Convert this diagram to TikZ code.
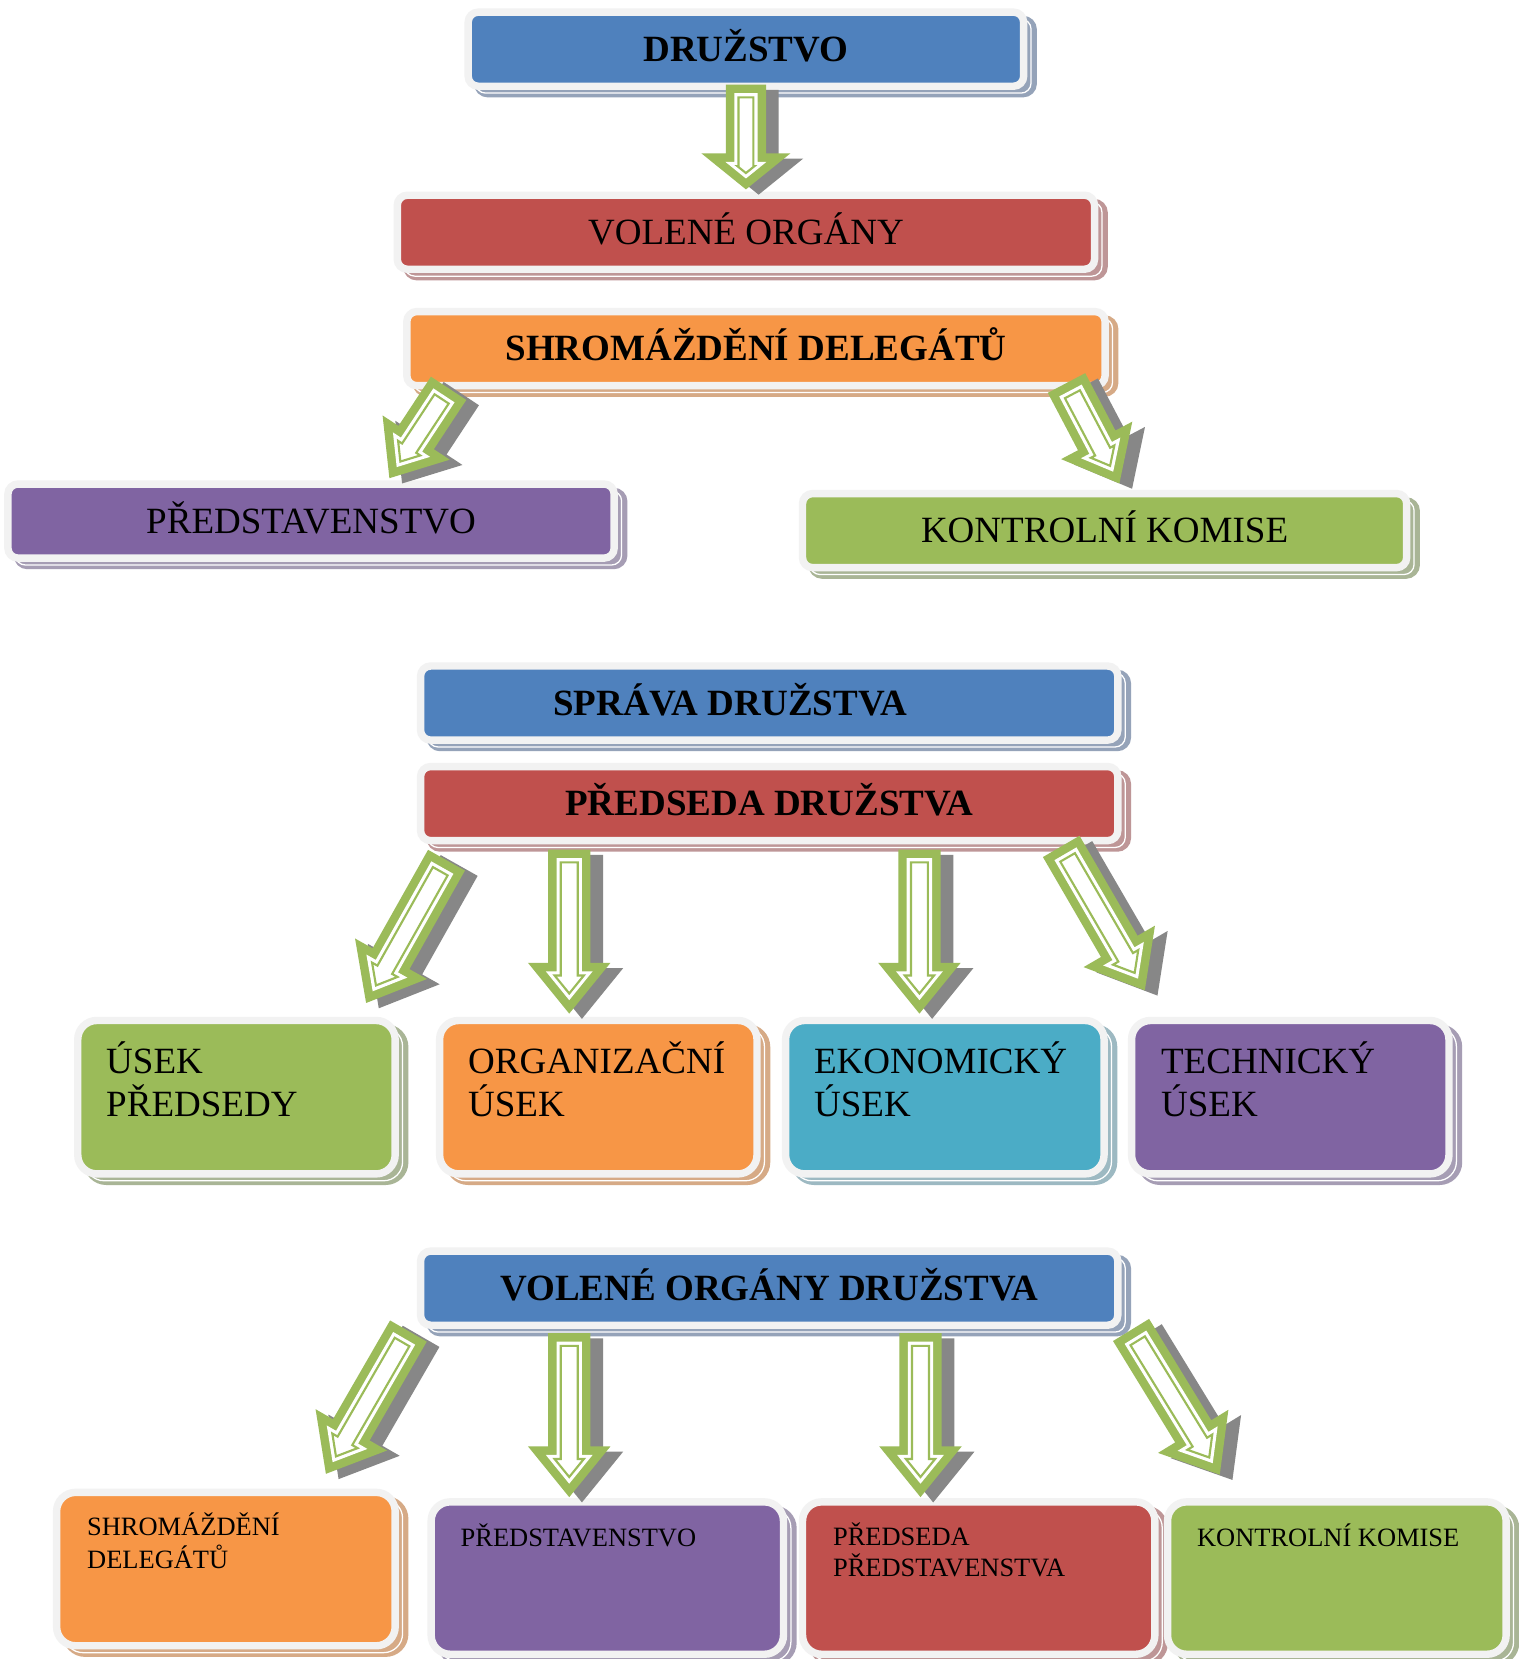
\documentclass[tikz,border=0pt]{standalone}
\usepackage{fontspec}
\setmainfont{Liberation Serif}
\definecolor{cblue}{HTML}{4F81BD}
\definecolor{sblue}{HTML}{95A3B9}
\definecolor{cred}{HTML}{C0504D}
\definecolor{sred}{HTML}{BE9697}
\definecolor{corange}{HTML}{F79646}
\definecolor{sorange}{HTML}{D6AA86}
\definecolor{cpurple}{HTML}{8064A2}
\definecolor{spurple}{HTML}{A69DB4}
\definecolor{cgreen}{HTML}{9BBB59}
\definecolor{sgreen}{HTML}{A9B596}
\definecolor{cteal}{HTML}{4BACC6}
\definecolor{steal}{HTML}{9DB9C2}
\definecolor{framegray}{HTML}{F2F2F2}
\definecolor{arrowgreen}{HTML}{9BBB59}
\definecolor{arrowshadow}{HTML}{878787}
\newcommand\bigfnt{\fontsize{17.5pt}{20pt}\selectfont}
\newcommand\smallfnt{\fontsize{12.5pt}{14.5pt}\selectfont}
\newdimen\gAx \newdimen\gAy \newdimen\gBx \newdimen\gBy
\newcommand\arrowpoly[2]{%
  \pgfmathsetmacro\aq{sqrt(\ghl*\ghl+\gh*\gh)}%
  \pgfmathsetmacro\atip{\glen-#1*\aq/\gh}%
  \pgfmathsetmacro\abarb{\gh*(\ghl-#1)/\ghl-#1*\aq/\ghl}%
  \pgfmathsetmacro\nabarb{-\abarb}%
  \pgfmathsetmacro\aback{\glen-\ghl+#1}%
  \pgfmathsetmacro\ash{\gs-#1}%
  \pgfmathsetmacro\nash{-\ash}%
  \path[#2] (#1pt,\nash pt) -- (\aback pt,\nash pt) -- (\aback pt,\nabarb pt) -- (\atip pt,0pt) -- (\aback pt,\abarb pt) -- (\aback pt,\ash pt) -- (#1pt,\ash pt) -- cycle;
}
\newcommand\garrow[5]{%
  \def\ghl{#3}\def\gh{#4}\def\gs{#5}%
  \pgfextractx{\gAx}{\pgfpointanchor{#1}{center}}%
  \pgfextracty{\gAy}{\pgfpointanchor{#1}{center}}%
  \pgfextractx{\gBx}{\pgfpointanchor{#2}{center}}%
  \pgfextracty{\gBy}{\pgfpointanchor{#2}{center}}%
  \pgfmathsetmacro\gdx{\gBx-\gAx}%
  \pgfmathsetmacro\gdy{\gBy-\gAy}%
  \pgfmathsetmacro\gang{atan2(\gdy,\gdx)}%
  \pgfmathsetmacro\glen{veclen(\gdx,\gdy)}%
  \begin{scope}[shift={(\the\gAx+6pt,\the\gAy-2.5pt)}, rotate=\gang]
    \arrowpoly{0}{fill=arrowshadow}
  \end{scope}
  \begin{scope}[shift={(\the\gAx,\the\gAy)}, rotate=\gang]
    \arrowpoly{0}{fill=arrowgreen}
    \arrowpoly{4}{fill=white}
    \arrowpoly{6}{draw=arrowgreen, line width=1pt}
  \end{scope}
}
\tikzset{
  frm/.style={rectangle, draw=framegray, line width=3.5pt, inner sep=0pt, outer sep=0pt},
  wbox/.style 2 args={frm, rounded corners=4.75pt, fill=#1,
    preaction={fill=#2, draw=#2, line width=3.5pt, transform canvas={shift={(4.5pt,-3.5pt)}}},
    preaction={draw=white, line width=0.6pt, transform canvas={shift={(3.5pt,-3.25pt)}}},
    text height=11.6pt, text depth=0pt, font=\bigfnt},
  rbox/.style 2 args={frm, rounded corners=9pt, fill=#1,
    preaction={fill=#2, draw=#2, line width=3.5pt, transform canvas={shift={(4.5pt,-3.5pt)}}},
    preaction={draw=white, line width=0.6pt, transform canvas={shift={(3.5pt,-3.25pt)}}}},
  bigtxt/.style={anchor=base west, inner sep=0pt, font=\bigfnt},
  smalltxt/.style={anchor=base west, inner sep=0pt, font=\smallfnt},
}
\begin{document}
\begin{tikzpicture}[x=0.5pt, y=-0.5pt]
\useasboundingbox (0,0) rectangle (1435,1568);
\fill[white] (0,0) rectangle (1435,1568);

% wide boxes
\node[wbox={cblue}{sblue}, minimum width=262.5pt, minimum height=35pt, font=\bigfnt\bfseries] (druz) at (705,46.5) {DRUŽSTVO};
\node[wbox={cred}{sred}, minimum width=329.5pt, minimum height=35pt] (volene) at (705,219.5) {VOLENÉ ORGÁNY};
\node[wbox={corange}{sorange}, minimum width=330pt, minimum height=35pt, font=\bigfnt\bfseries] (shrom) at (714.5,329.5) {SHROMÁŽDĚNÍ DELEGÁTŮ};
\node[wbox={cpurple}{spurple}, minimum width=286.5pt, minimum height=35pt] (pred) at (294,492.5) {PŘEDSTAVENSTVO};
\node[wbox={cgreen}{sgreen}, minimum width=285.5pt, minimum height=35pt] (kontr) at (1044,501.5) {KONTROLNÍ KOMISE};
\node[wbox={cblue}{sblue}, minimum width=329.5pt, minimum height=35pt, font=\bigfnt\bfseries] (sprava) at (727,664.5) {\hspace*{-37pt}SPRÁVA DRUŽSTVA};
\node[wbox={cred}{sred}, minimum width=329.5pt, minimum height=35pt, font=\bigfnt\bfseries] (predseda) at (727,759.5) {PŘEDSEDA DRUŽSTVA};
\node[wbox={cblue}{sblue}, minimum width=329.5pt, minimum height=35pt, font=\bigfnt\bfseries] (voldr) at (727,1217.5) {VOLENÉ ORGÁNY DRUŽSTVA};

% row boxes
\node[rbox={cgreen}{sgreen}, minimum width=150pt, minimum height=72.5pt] (usek) at (223.5,1037) {};
\node[rbox={corange}{sorange}, minimum width=150pt, minimum height=72.5pt] (org) at (565.5,1037) {};
\node[rbox={cteal}{steal}, minimum width=150.5pt, minimum height=72.5pt] (eko) at (893,1037) {};
\node[rbox={cpurple}{spurple}, minimum width=150pt, minimum height=72.5pt] (tech) at (1219.5,1037) {};
\node[bigtxt] (usek1) at (100,1015) {ÚSEK};
\node[bigtxt] (usek2) at (100,1055) {PŘEDSEDY};
\node[bigtxt] (org1) at (442,1015) {ORGANIZAČNÍ};
\node[bigtxt] (org2) at (442,1055) {ÚSEK};
\node[bigtxt] (eko1) at (769,1015) {EKONOMICKÝ};
\node[bigtxt] (eko2) at (769,1055) {ÚSEK};
\node[bigtxt] (tech1) at (1097,1015) {TECHNICKÝ};
\node[bigtxt] (tech2) at (1097,1055) {ÚSEK};

% bottom boxes
\node[rbox={corange}{sorange}, minimum width=160pt, minimum height=72.5pt] (bshrom) at (213.5,1483) {};
\node[rbox={cpurple}{spurple}, minimum width=166.5pt, minimum height=72pt] (bpred) at (574,1491.5) {};
\node[rbox={cred}{sred}, minimum width=166.5pt, minimum height=72pt] (bpreds) at (925,1491.5) {};
\node[rbox={cgreen}{sgreen}, minimum width=160pt, minimum height=72pt] (bkontr) at (1263.5,1491.5) {};
\node[smalltxt] (bshrom1) at (82,1451) {SHROMÁŽDĚNÍ};
\node[smalltxt] (bshrom2) at (82,1482) {DELEGÁTŮ};
\node[smalltxt] (bpred1) at (435,1462) {PŘEDSTAVENSTVO};
\node[smalltxt] (bpreds1) at (787,1461) {PŘEDSEDA};
\node[smalltxt] (bpreds2) at (787,1490) {PŘEDSTAVENSTVA};
\node[smalltxt] (bkontr1) at (1131,1462) {KONTROLNÍ KOMISE};

% arrow end points
\coordinate (a0s) at (705,80);   \coordinate (a0e) at (705,179);
\coordinate (aAs) at (424,367);  \coordinate (aAe) at (368,452);
\coordinate (aBs) at (1008,362); \coordinate (aBe) at (1058,457);
\coordinate (aCs) at (422,813);  \coordinate (aCe) at (346,948);
\coordinate (aDs) at (538,803);  \coordinate (aDe) at (538,958);
\coordinate (aEs) at (869,803);  \coordinate (aEe) at (869,958);
\coordinate (aFs) at (1003,800); \coordinate (aFe) at (1082,936);
\coordinate (aGs) at (386,1258); \coordinate (aGe) at (308,1393);
\coordinate (aHs) at (538,1260); \coordinate (aHe) at (538,1415);
\coordinate (aIs) at (870,1260); \coordinate (aIe) at (870,1415);
\coordinate (aJs) at (1069,1257);\coordinate (aJe) at (1153,1394);

\garrow{a0s}{a0e}{17}{21}{9.5}
\garrow{aAs}{aAe}{23}{19}{10}
\garrow{aBs}{aBe}{23}{19}{10}
\garrow{aCs}{aCe}{24}{19.5}{10}
\garrow{aDs}{aDe}{24}{19.5}{10}
\garrow{aEs}{aEe}{24}{19.5}{10}
\garrow{aFs}{aFe}{24}{19.5}{10}
\garrow{aGs}{aGe}{24}{19.5}{10}
\garrow{aHs}{aHe}{24}{19.5}{10}
\garrow{aIs}{aIe}{24}{19.5}{10}
\garrow{aJs}{aJe}{24}{19.5}{10}
\end{tikzpicture}
\end{document}
